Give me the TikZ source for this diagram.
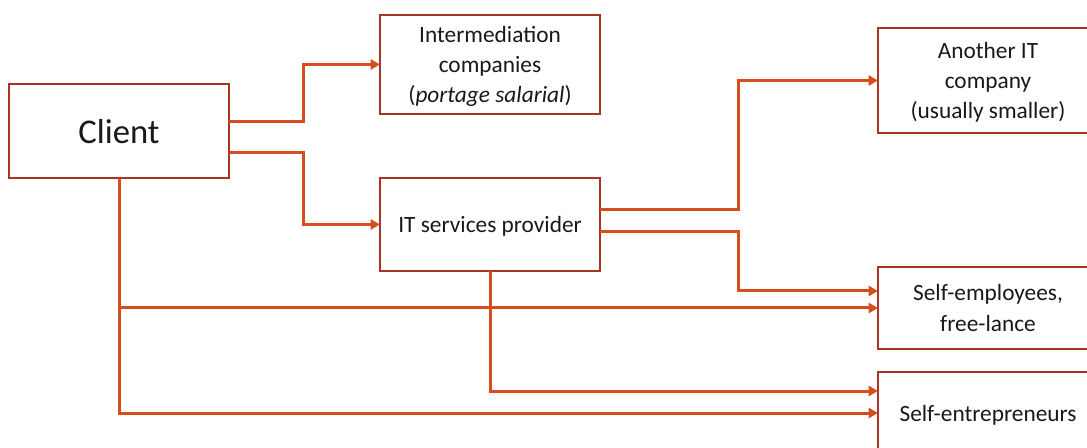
\documentclass[tikz,border=0pt]{standalone}
\usepackage{fontspec}
\setmainfont{Carlito}
\usetikzlibrary{arrows.meta}
\definecolor{boxred}{RGB}{168,52,38}
\definecolor{connor}{RGB}{213,78,30}
\definecolor{txt}{RGB}{25,25,25}
\begin{document}
\begin{tikzpicture}[x=0.75pt,y=-0.75pt,
  box/.style={draw=boxred,line width=1.9pt,fill=white,minimum width=165pt,inner sep=2pt,outer sep=0pt,
    align=center,text=txt,text depth=0pt,font=\fontsize{17.5}{22.8}\selectfont},
  conn/.style={draw=connor,line width=2.25pt,-{Triangle[length=7pt,width=7.5pt]}}]
\clip (0,0) rectangle (1087,448);
\fill[white] (0,0) rectangle (1087,448);
\node[box,minimum height=70.5pt,font=\fontsize{26}{30}\selectfont] (client) at (119,131) {Client};
\node[box,minimum height=74.25pt] (inter) at (490,64.5) {Intermediation\\companies\\(\textit{portage salarial})};
\node[box,minimum height=69.75pt] (it) at (490,224.5) {IT services provider};
\node[box,minimum height=78.75pt] (another) at (988,80.5) {Another IT\\company\\(usually smaller)};
\node[box,minimum height=61.5pt] (selfemp) at (988,308) {Self-employees,\\free-lance};
\node[box,minimum height=61.5pt] (selfent) at (988,413) {Self-entrepreneurs};
\draw[conn] ([yshift=6.75pt]client.east) -- ++(74,0) |- (inter.west);
\draw[conn] ([yshift=-16.5pt]client.east) -- ++(74,0) |- (it.west);
\draw[conn] ([yshift=11.6pt]it.east) -- ++(138,0) |- (another.west);
\draw[conn] ([yshift=-5.6pt]it.east) -- ++(138,0) |- ([yshift=12.75pt]selfemp.west);
\draw[conn] (client.south) |- (selfemp.west);
\draw[conn] (client.south) |- (selfent.west);
\draw[conn] (it.south) |- ([yshift=16.5pt]selfent.west);
\end{tikzpicture}
\end{document}
